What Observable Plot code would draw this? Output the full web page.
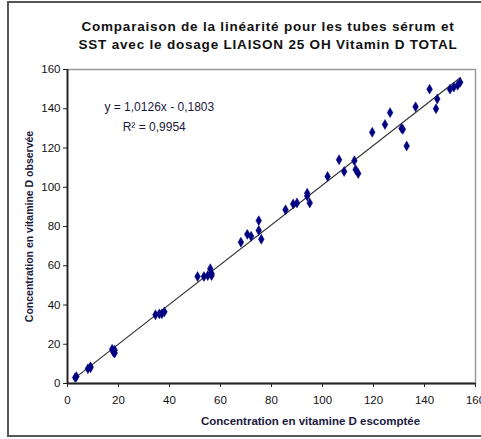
<!DOCTYPE html>
<html>
<head>
<meta charset="utf-8">
<script src="https://cdn.jsdelivr.net/npm/d3@7"></script>
<script src="https://cdn.jsdelivr.net/npm/@observablehq/plot@0.6"></script>
<style>
  body { margin: 0; background: #fff; font-family: "Liberation Sans", Arial, sans-serif; }
  #wrap { position: relative; width: 481px; height: 439px; overflow: hidden; background: #fff; }
  #frame { position: absolute; left: 7px; top: 1px; width: 474px; height: 436px; border: 2px solid #555; box-sizing: border-box; border-right: none; }
  #title { position: absolute; left: 50px; width: 436px; top: 18px; text-align: center; font-weight: bold; font-size: 13.5px; letter-spacing: 0.8px; line-height: 18px; color: #111; }
  #chart { position: absolute; left: 0; top: 0; }
</style>
</head>
<body>
<div id="wrap">
  <div id="chart"></div>
  <div id="frame"></div>
  <div id="title">Comparaison de la linéarité pour les tubes sérum et<br>SST avec le dosage LIAISON 25 OH Vitamin D TOTAL</div>
</div>
<script>
const expected = [3, 3.5, 8, 9, 9, 17.5, 18, 18.5, 18.5, 34.5, 36, 37, 38, 51, 53.5, 55, 56, 56.5, 56.5, 68, 70.5, 72, 75, 75, 76, 85.5, 88.5, 90, 94, 94, 95, 102, 106.5, 108.5, 112.5, 113, 114, 119.5, 124.5, 126.5, 131, 131.5, 133, 136.5, 142, 144.5, 145, 150, 151.5, 153, 154];
const observed = [3, 3.5, 7.5, 8.5, 8, 17.5, 16, 17, 15.5, 35, 35.5, 35.5, 36.5, 54.5, 54.5, 55, 58.5, 55, 56, 72, 76, 75, 83, 78, 73.5, 88.5, 91.5, 92, 97, 95.5, 92, 105.5, 114, 108, 113.5, 109, 107, 128, 132, 138, 130, 129.5, 121, 141, 150, 140, 145, 150, 151, 152, 153.5];
const slope = 1.0126, intercept = -0.1803, r2 = 0.9954;
const ticks = [0, 20, 40, 60, 80, 100, 120, 140, 160];
const xLabel = "Concentration en vitamine D escomptée";
const yLabel = "Concentration en vitamine D observée";
const eqText = "y = 1,0126x - 0,1803";
const r2Text = "R² = 0,9954";

const points = expected.map((x, i) => ({x, y: observed[i]}));
const xs = [d3.min(expected), d3.max(expected)];
const trend = xs.map(x => ({x, y: slope * x + intercept}));

const chart = Plot.plot({
  width: 481,
  height: 439,
  marginLeft: 67,
  marginRight: 6,
  marginTop: 69,
  marginBottom: 56,
  style: {fontFamily: "'Liberation Sans', Arial, sans-serif", fontSize: "11px", color: "#000", background: "transparent", overflow: "visible"},
  x: {domain: [0, 160], ticks: ticks},
  y: {domain: [0, 160], ticks: ticks},
  marks: [
    Plot.frame({stroke: "#999", strokeWidth: 1.5}),
    Plot.line(trend, {x: "x", y: "y", stroke: "#333", strokeWidth: 1.2}),
    Plot.dot(points, {x: "x", y: "y", symbol: "diamond", r: 3, fill: "#000080", stroke: "#000080", strokeWidth: 0.5}),
    Plot.ruleX([0], {stroke: "#222", strokeWidth: 1.8}),
    Plot.ruleY([0], {stroke: "#222", strokeWidth: 1.8}),
    Plot.axisX({ticks: ticks, tickSize: 4, tickPadding: 8, label: null, tickFormat: d => String(d), stroke: "#222", fontSize: 11.5, fill: "#111"}),
    Plot.axisY({ticks: ticks, tickSize: 4, tickPadding: 3, label: null, tickFormat: d => String(d), stroke: "#222", fontSize: 11.5, fill: "#111"}),
    Plot.text([xLabel], {frameAnchor: "bottom", dx: 39, dy: 41, text: d => d, fontWeight: "bold", fontSize: 11.5, fill: "#1a1a40", textAnchor: "middle", style: {letterSpacing: "0.3px"}}),
    Plot.text([yLabel], {frameAnchor: "left", dx: -38, rotate: -90, text: d => d, fontWeight: "bold", fontSize: 10.5, fill: "#1a1a40", textAnchor: "middle"}),
    Plot.text([eqText], {x: [36], y: [140.6], text: d => d, fontSize: 12, fill: "#1a1a40"}),
    Plot.text([r2Text], {x: [34], y: [130.5], text: d => d, fontSize: 12, fill: "#1a1a40"})
  ]
});
document.getElementById("chart").appendChild(chart);
</script>
</body>
</html>
